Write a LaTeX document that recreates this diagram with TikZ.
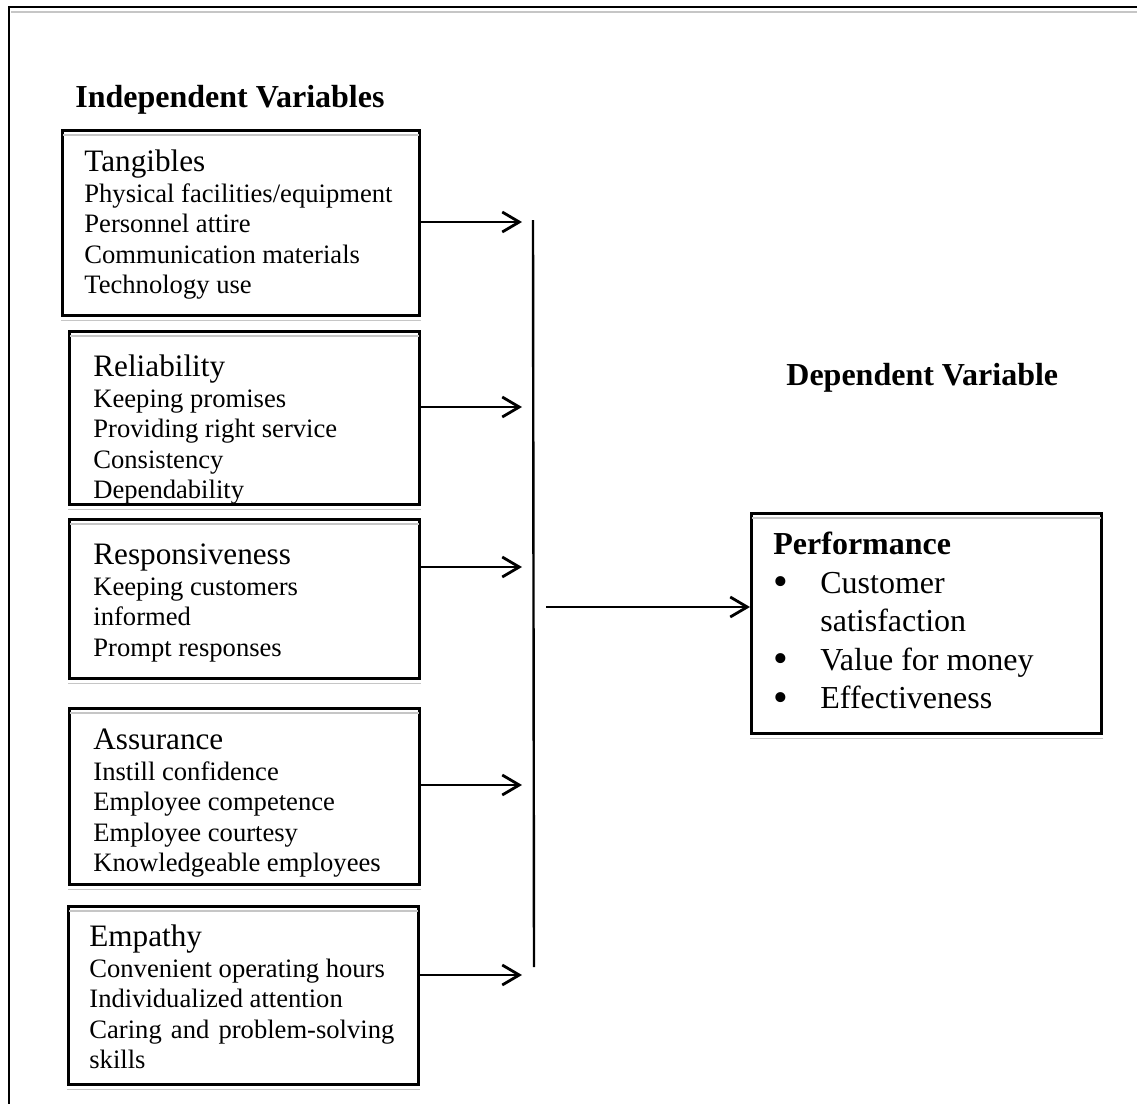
\documentclass[tikz,border=0pt]{standalone}
\usepackage{fontspec}
\setmainfont{Liberation Serif}
\usetikzlibrary{arrows.meta}

\newcommand{\itemfont}{\fontsize{13.3}{15.3}\selectfont}
\newcommand{\headfont}{\fontsize{15.6}{15.3}\selectfont}
\newcommand{\dimtext}[4]{\parbox[t][#1][t]{#2}{\raggedright\rule{0pt}{#3}#4}}
\newcommand{\perfdot}{\makebox[23.5pt][l]{\raisebox{-1.2pt}{\fontsize{21}{19}\selectfont\textbullet}}}

\begin{document}
\begin{tikzpicture}[x=0.5pt, y=-0.5pt,
    dimbox/.style={draw, line width=1.4pt, anchor=north west,
                   inner xsep=#1, inner ysep=0pt, font=\itemfont},
    heading/.style={anchor=base west, inner sep=0pt,
                    font=\fontsize{16}{19}\selectfont\bfseries},
    link/.style={line width=1.4pt, -{Straight Barb[length=8.5pt,width=10pt]}},
    bar/.style={line width=1.2pt},
    ghost/.style={gray!45, line width=0.7pt}]
  \useasboundingbox (0,0) rectangle (1137,1104);
  %% outer frame
  \draw[line width=1pt] (1137,7) -- (9,7) -- (9,1104);
  \draw[ghost] (11,12) -- (1137,12);

  \node[heading] (indep) at (75,107) {Independent Variables};
  \node[heading] (dep) at (786,385) {Dependent Variable};

  %% independent variables
  \node[dimbox=11pt] (tan) at (61,129)
    {\dimtext{92.5pt}{156.5pt}{20.5pt}{{\headfont Tangibles}\\
     Physical facilities/equipment\\ Personnel attire\\
     Communication materials\\ Technology use}};
  \node[dimbox=12pt] (rel) at (68,330)
    {\dimtext{86.5pt}{151pt}{22.5pt}{{\headfont Reliability}\\
     Keeping promises\\ Providing right service\\
     Consistency\\ Dependability}};
  \node[dimbox=12pt] (res) at (68,518)
    {\dimtext{79.5pt}{151pt}{22.5pt}{{\headfont Responsiveness}\\
     Keeping customers\\ informed\\ Prompt responses}};
  \node[dimbox=12pt] (ass) at (68,707)
    {\dimtext{88pt}{151pt}{20.5pt}{{\headfont Assurance}\\
     Instill confidence\\ Employee competence\\
     Employee courtesy\\ Knowledgeable employees}};
  \node[dimbox=10.5pt] (emp) at (67,905)
    {\dimtext{89pt}{154pt}{20pt}{{\headfont Empathy}\\
     Convenient operating hours\\ Individualized attention\\
     \makebox[152.5pt][s]{Caring and problem-solving}\\ skills}};

  %% dependent variable
  \node[dimbox=11pt, font=\fontsize{16}{19.3}\selectfont] (perf) at (750,512)
    {\dimtext{110pt}{153pt}{20.5pt}{\textbf{Performance}\\
     \perfdot Customer\\
     \hspace*{23.5pt}satisfaction\\
     \perfdot Value for money\\
     \perfdot Effectiveness}};

  %% shadow lines of the boxes
  \foreach \b in {tan,rel,res,ass,emp,perf} {
    \draw[ghost] ([yshift=-1.8pt]\b.south west) -- ([yshift=-1.8pt]\b.south east);
    \draw[ghost] ([shift={(1pt,-3pt)}]\b.north west) -- ([shift={(-1pt,-3pt)}]\b.north east);
  }

  %% collecting bar and connectors
  \coordinate (bartop) at (533,220);
  \coordinate (barbot) at (534,967);
  \draw[bar] (bartop) -- (barbot);
  \foreach \src/\yy in {tan/222,rel/407,res/567,ass/785,emp/975}
    \draw[link, shorten >=5.5pt] (\src.east |- 0,\yy) -- (bartop |- 0,\yy);
  \draw[link, shorten <=6.5pt] (bartop |- 0,607) -- (perf.west |- 0,607);
\end{tikzpicture}
\end{document}
